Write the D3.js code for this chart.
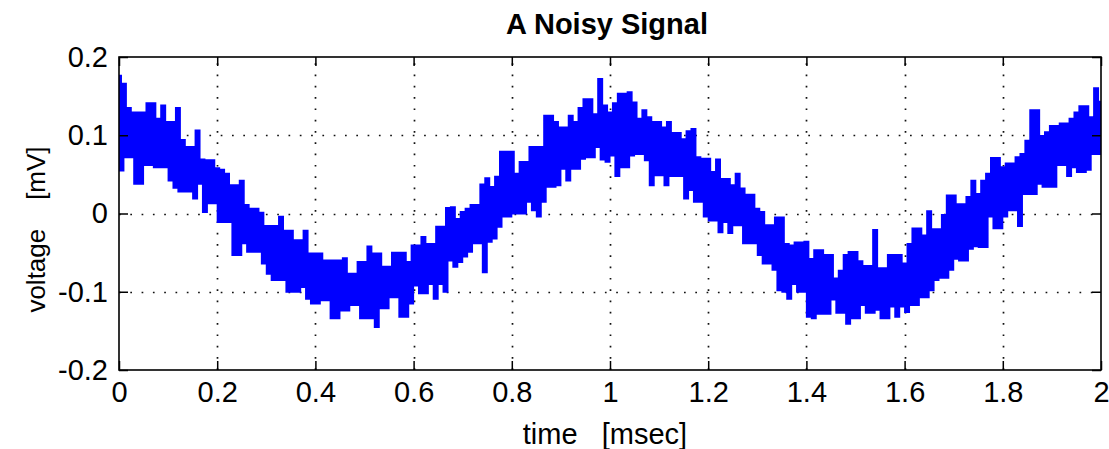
<!DOCTYPE html>
<html>
<head>
<meta charset="utf-8">
<script src="https://cdn.jsdelivr.net/npm/d3@7"></script>
<style>
  html, body { margin: 0; padding: 0; background: #fff; }
  svg { display: block; }
  text { font-family: "Liberation Sans", Arial, sans-serif; fill: #000; }
  .ws { white-space: pre; }
</style>
</head>
<body>
<svg id="chart" width="1109" height="449"></svg>
<script>
// Noisy voltage trace, sampled every 5 µs: within each 10 µs interval the
// signal swings to a high sample and then to a low sample.
const voltageHigh = [
  0.175, 0.165, 0.134, 0.128, 0.128, 0.128, 0.140, 0.140, 0.120, 0.137,
  0.116, 0.116, 0.134, 0.093, 0.084, 0.084, 0.105, 0.068, 0.067, 0.067,
  0.057, 0.055, 0.050, 0.035, 0.035, 0.041, 0.010, 0.005, 0.005, 0.000,
  -0.017, -0.017, -0.017, -0.005, -0.023, -0.023, -0.035, -0.035, -0.023, -0.052,
  -0.052, -0.052, -0.061, -0.061, -0.061, -0.061, -0.058, -0.078, -0.078, -0.063,
  -0.063, -0.043, -0.052, -0.052, -0.069, -0.069, -0.051, -0.051, -0.051, -0.063,
  -0.042, -0.042, -0.031, -0.040, -0.040, -0.018, -0.018, 0.006, 0.007, -0.008,
  0.001, 0.005, 0.010, 0.010, 0.036, 0.044, 0.033, 0.046, 0.078, 0.078,
  0.078, 0.050, 0.065, 0.065, 0.084, 0.084, 0.084, 0.124, 0.124, 0.116,
  0.109, 0.109, 0.124, 0.116, 0.134, 0.145, 0.145, 0.126, 0.171, 0.137,
  0.128, 0.140, 0.152, 0.152, 0.154, 0.141, 0.120, 0.131, 0.122, 0.116,
  0.116, 0.109, 0.116, 0.102, 0.102, 0.094, 0.104, 0.107, 0.071, 0.069,
  0.069, 0.052, 0.068, 0.043, 0.043, 0.035, 0.050, 0.031, 0.023, 0.023,
  0.005, 0.001, -0.016, -0.016, -0.006, -0.006, -0.040, -0.042, -0.038, -0.038,
  -0.037, -0.059, -0.048, -0.048, -0.054, -0.054, -0.084, -0.074, -0.054, -0.050,
  -0.050, -0.062, -0.068, -0.068, -0.022, -0.071, -0.071, -0.054, -0.054, -0.054,
  -0.065, -0.040, -0.020, -0.020, -0.029, 0.002, -0.021, -0.021, -0.003, 0.022,
  0.022, 0.011, 0.011, 0.020, 0.041, 0.024, 0.041, 0.050, 0.070, 0.070,
  0.058, 0.063, 0.063, 0.071, 0.075, 0.092, 0.131, 0.131, 0.098, 0.103,
  0.111, 0.111, 0.114, 0.114, 0.120, 0.128, 0.136, 0.136, 0.122, 0.159,
  0.142
];
const voltageLow = [
  0.056, 0.073, 0.073, 0.039, 0.039, 0.063, 0.063, 0.060, 0.060, 0.060,
  0.043, 0.034, 0.029, 0.029, 0.029, 0.020, 0.039, 0.003, 0.014, 0.014,
  -0.010, -0.010, -0.010, -0.052, -0.052, -0.037, -0.048, -0.048, -0.048, -0.063,
  -0.076, -0.084, -0.084, -0.084, -0.099, -0.099, -0.099, -0.093, -0.108, -0.114,
  -0.114, -0.110, -0.110, -0.133, -0.133, -0.123, -0.123, -0.116, -0.116, -0.133,
  -0.133, -0.133, -0.144, -0.120, -0.120, -0.106, -0.106, -0.131, -0.131, -0.114,
  -0.091, -0.101, -0.101, -0.089, -0.108, -0.089, -0.099, -0.059, -0.067, -0.061,
  -0.054, -0.048, -0.037, -0.037, -0.074, -0.035, -0.031, -0.016, -0.003, -0.003,
  0.001, 0.001, 0.001, 0.016, 0.005, -0.003, 0.016, 0.035, 0.035, 0.037,
  0.058, 0.043, 0.058, 0.058, 0.071, 0.073, 0.073, 0.086, 0.070, 0.067,
  0.075, 0.049, 0.060, 0.060, 0.075, 0.077, 0.077, 0.069, 0.037, 0.050,
  0.050, 0.037, 0.049, 0.049, 0.049, 0.020, 0.031, 0.016, 0.016, -0.003,
  -0.008, -0.008, -0.023, -0.010, -0.024, -0.014, -0.014, -0.037, -0.037, -0.037,
  -0.052, -0.063, -0.063, -0.071, -0.097, -0.099, -0.108, -0.089, -0.099, -0.099,
  -0.131, -0.133, -0.127, -0.127, -0.127, -0.109, -0.126, -0.126, -0.140, -0.133,
  -0.133, -0.116, -0.126, -0.126, -0.122, -0.133, -0.133, -0.118, -0.131, -0.118,
  -0.125, -0.116, -0.116, -0.106, -0.106, -0.097, -0.084, -0.081, -0.081, -0.071,
  -0.057, -0.059, -0.059, -0.044, -0.041, -0.042, -0.042, -0.003, -0.018, -0.018,
  -0.003, 0.005, 0.005, -0.015, 0.026, 0.026, 0.026, 0.039, 0.035, 0.035,
  0.035, 0.063, 0.063, 0.049, 0.060, 0.054, 0.054, 0.057, 0.077, 0.077
];
const sampleStep = 0.005; // msec

const xTicks = [0, 0.2, 0.4, 0.6, 0.8, 1, 1.2, 1.4, 1.6, 1.8, 2];
const xTickLabels = ["0", "0.2", "0.4", "0.6", "0.8", "1", "1.2", "1.4", "1.6", "1.8", "2"];
const yTicks = [-0.2, -0.1, 0, 0.1, 0.2];
const yTickLabels = ["-0.2", "-0.1", "0", "0.1", "0.2"];

const titleText = "A Noisy Signal";
const xLabelText = "time   [msec]";
const yLabelText = "voltage    [mV]";

// Samples in time order: high, low, high, low, ...
const samples = [];
voltageHigh.forEach((v, i) => {
  samples.push({ t: 2 * i * sampleStep, v: v });
  if (i < voltageLow.length) samples.push({ t: (2 * i + 1) * sampleStep, v: voltageLow[i] });
});

const svg = d3.select("#chart");
const plot = { left: 119, right: 1101, top: 57, bottom: 370 };

const x = d3.scaleLinear().domain([0, 2]).range([plot.left, plot.right]);
const y = d3.scaleLinear().domain([-0.2, 0.2]).range([plot.bottom, plot.top]);

svg.append("defs").append("clipPath").attr("id", "plot-clip")
  .append("rect")
  .attr("x", plot.left).attr("y", plot.top)
  .attr("width", plot.right - plot.left).attr("height", plot.bottom - plot.top);

// Dotted grid
const grid = svg.append("g").attr("stroke", "#111").attr("stroke-width", 1.7)
  .attr("stroke-dasharray", "1.7,9.6");
grid.selectAll(".gx").data(xTicks.slice(1, -1)).join("line")
  .attr("x1", d => Math.round(x(d)) + 0.5).attr("x2", d => Math.round(x(d)) + 0.5)
  .attr("y1", plot.bottom).attr("y2", plot.top);
grid.selectAll(".gy").data(yTicks.slice(1, -1)).join("line")
  .attr("y1", d => Math.round(y(d)) + 0.5).attr("y2", d => Math.round(y(d)) + 0.5)
  .attr("x1", plot.left).attr("x2", plot.right);

// Signal trace
const line = d3.line().x(d => x(d.t)).y(d => y(d.v)).curve(d3.curveStep);
svg.append("path")
  .datum(samples)
  .attr("clip-path", "url(#plot-clip)")
  .attr("fill", "none")
  .attr("stroke", "#0000ff")
  .attr("stroke-width", 3.5)
  .attr("stroke-linejoin", "miter")
  .attr("stroke-linecap", "square")
  .attr("d", line);

// Ticks on all four sides, pointing inward
const tickLen = 9;
const fontTicks = 29;
const axisBottom = d3.axisBottom(x).tickValues(xTicks).tickSize(-tickLen).tickPadding(11)
  .tickFormat((d, i) => xTickLabels[i]);
const axisTop = d3.axisTop(x).tickValues(xTicks).tickSize(-tickLen).tickFormat("");
const axisLeft = d3.axisLeft(y).tickValues(yTicks).tickSize(-tickLen).tickPadding(11)
  .tickFormat((d, i) => yTickLabels[i]);
const axisRight = d3.axisRight(y).tickValues(yTicks).tickSize(-tickLen).tickFormat("");

function styleAxis(g) {
  g.select(".domain").remove();
  g.selectAll(".tick line").attr("stroke", "#000").attr("stroke-width", 1.5);
  g.selectAll(".tick text").attr("font-size", fontTicks)
    .attr("font-family", "Liberation Sans, Arial, sans-serif").attr("fill", "#000");
}

svg.append("g").attr("transform", `translate(0,${plot.bottom})`).call(axisBottom).call(styleAxis);
svg.append("g").attr("transform", `translate(0,${plot.top})`).call(axisTop).call(styleAxis);
svg.append("g").attr("transform", `translate(${plot.left},0)`).call(axisLeft).call(styleAxis);
svg.append("g").attr("transform", `translate(${plot.right},0)`).call(axisRight).call(styleAxis);

// Axes box
svg.append("rect")
  .attr("x", plot.left).attr("y", plot.top)
  .attr("width", plot.right - plot.left).attr("height", plot.bottom - plot.top)
  .attr("fill", "none").attr("stroke", "#000").attr("stroke-width", 1.6);

// Title and axis labels
svg.append("text")
  .attr("x", (plot.left + plot.right) / 2 - 3).attr("y", 34)
  .attr("text-anchor", "middle")
  .attr("font-size", 29).attr("font-weight", "bold")
  .text(titleText);

svg.append("text").attr("class", "ws")
  .attr("x", (plot.left + plot.right) / 2 - 5).attr("y", 444)
  .attr("text-anchor", "middle")
  .attr("font-size", 29)
  .text(xLabelText);

svg.append("text").attr("class", "ws")
  .attr("transform", `translate(45,${(plot.top + plot.bottom) / 2 + 16}) rotate(-90)`)
  .attr("text-anchor", "middle")
  .attr("font-size", 26)
  .text(yLabelText);
</script>
</body>
</html>
